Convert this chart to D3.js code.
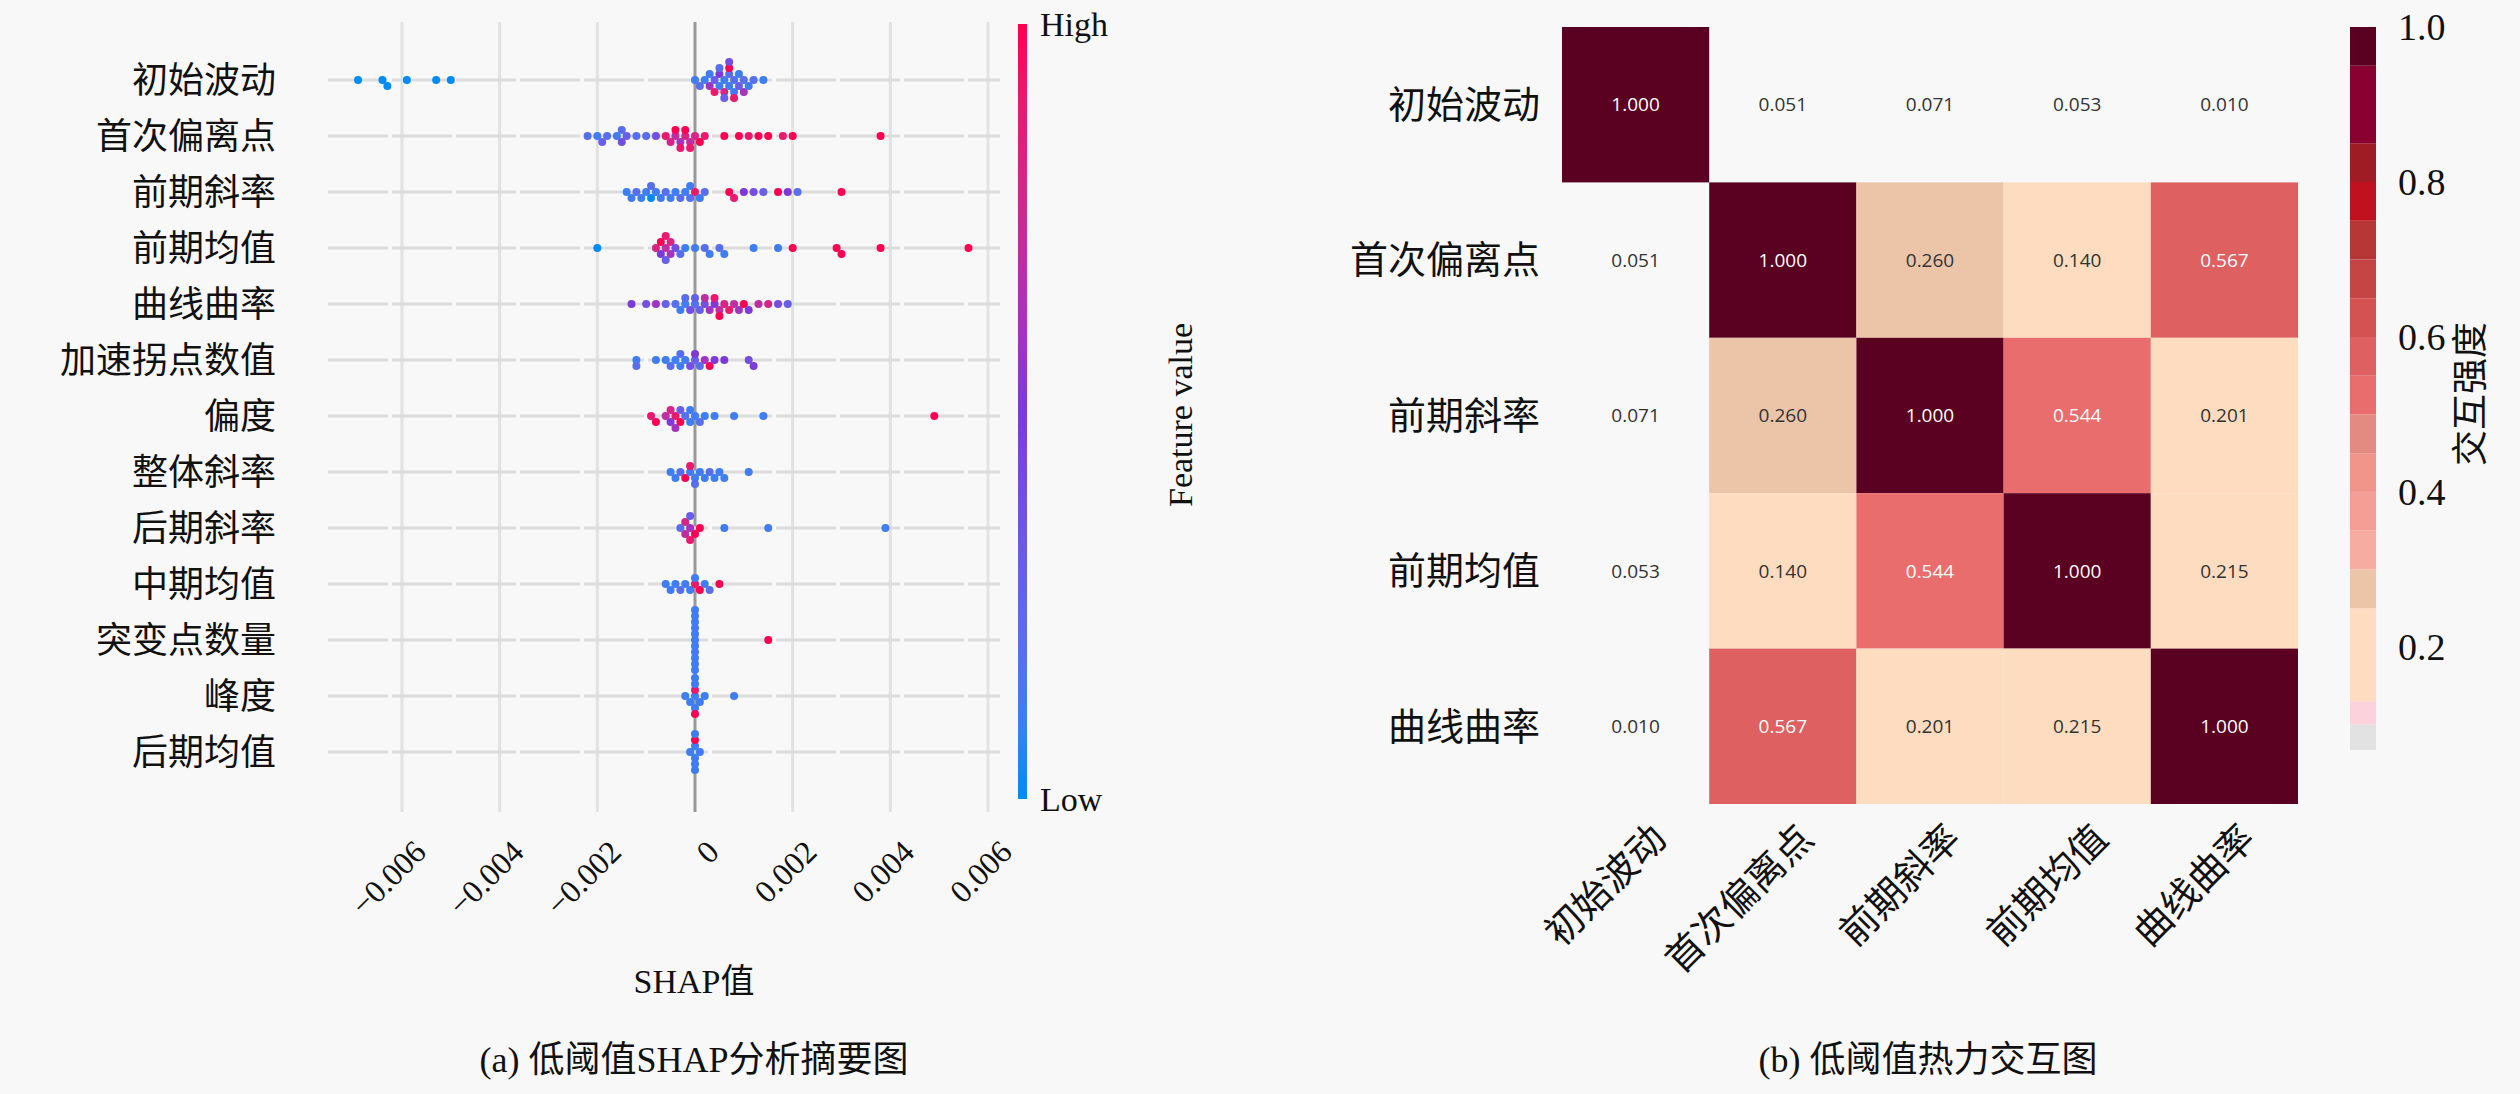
<!DOCTYPE html>
<html><head><meta charset="utf-8">
<script src="https://cdn.jsdelivr.net/npm/d3@7"></script>
<style>
body{margin:0;background:#f8f8f8;}
text{font-family:"Liberation Serif","Noto Sans CJK SC",serif;fill:#111;}
</style></head>
<body><div id="chart"></div>
<script>
// features, top to bottom
var features = ["初始波动","首次偏离点","前期斜率","前期均值","曲线曲率","加速拐点数值","偏度","整体斜率","后期斜率","中期均值","突变点数量","峰度","后期均值"];
// shap values (x 1e-3) and feature values (0 low .. 1 high), one pair of arrays per feature
var shap0 = [-6.9,-6.4,-6.3,-5.9,-5.3,-5.0,0.0,0.1,0.2,0.3,0.3,0.4,0.4,0.5,0.5,0.5,0.6,0.6,0.6,0.7,0.7,0.7,0.7,0.8,0.8,0.8,0.9,0.9,1.0,1.0,1.1,1.2,1.4];
var fv0   = [0,0,0,0,0,0,0.1,0.2,0.1,0.6,0.1,0.3,0.9,0.1,0.5,0.2,0.1,0.8,0.3,0.1,0.2,1,0.4,0.2,0.1,0.9,0.3,0.1,0.2,0.6,0.1,0.2,0.1];
var shap1 = [-2.2,-2.0,-1.9,-1.8,-1.6,-1.5,-1.5,-1.4,-1.2,-1.0,-0.8,-0.6,-0.5,-0.4,-0.4,-0.3,-0.3,-0.2,-0.2,-0.1,-0.1,0.0,0.1,0.2,0.6,0.9,1.1,1.3,1.5,1.8,2.0,3.8];
var fv1   = [0.2,0.1,0.3,0.2,0.1,0.4,0.2,0.3,0.2,0.2,0.4,0.9,0.8,0.7,1,0.6,0.9,0.8,1,0.7,0.9,0.8,1,0.9,1,1,0.9,1,1,0.9,1,1];
var shap2 = [-1.4,-1.3,-1.2,-1.1,-1.0,-0.9,-0.9,-0.8,-0.7,-0.6,-0.5,-0.4,-0.3,-0.2,-0.1,-0.1,0.0,0.1,0.2,0.7,0.8,1.0,1.2,1.4,1.7,1.9,2.1,3.0];
var fv2   = [0.1,0.1,0.2,0.1,0.1,0,0.2,0.1,0.1,0.2,0.1,0.1,0.2,0.1,0.2,0.1,0.9,0.1,0.2,1,0.9,0.5,0.4,0.3,1,0.5,0.2,1];
var shap3 = [-2.0,-0.8,-0.7,-0.7,-0.6,-0.6,-0.6,-0.5,-0.5,-0.4,-0.3,-0.2,0.0,0.2,0.3,0.5,0.6,1.2,1.7,2.0,2.9,3.0,3.8,5.6];
var fv3   = [0,0.8,0.5,1,0.7,0.3,0.9,0.6,0.8,0.4,0.2,0.1,0.1,0.2,0.1,0.2,0.1,0.1,0.1,1,1,1,1,1];
var shap4 = [-1.3,-1.0,-0.8,-0.6,-0.4,-0.3,-0.2,-0.1,0.0,0.1,0.2,0.3,0.4,0.5,0.6,0.7,0.8,0.9,1.0,1.1,1.3,1.5,1.7,1.9,-0.2,0.0,0.2,0.4,0.5];
var fv4   = [0.5,0.4,0.6,0.3,0.2,0.1,0.1,0.4,0.2,0.3,0.4,0.6,0.5,0.7,0.8,0.9,0.7,0.6,1,0.5,0.7,0.8,0.4,0.3,0.2,0.3,0.7,0.9,1];
var shap5 = [-1.2,-1.2,-0.8,-0.6,-0.5,-0.4,-0.3,-0.3,-0.2,-0.1,0.0,0.0,0.1,0.2,0.3,0.4,0.6,1.1,1.2];
var fv5   = [0.1,0.2,0.1,0.1,0.2,0.1,0.1,0.2,0.1,0.4,0.3,0.5,0.2,0.6,1,0.5,0.5,0.4,0.5];
var shap6 = [-0.9,-0.8,-0.6,-0.5,-0.5,-0.4,-0.4,-0.3,-0.3,-0.2,-0.1,-0.1,0.0,0.1,0.2,0.4,0.8,1.4,4.9];
var fv6   = [0.9,1,0.7,0.5,0.8,0.9,0.6,1,0.3,0.2,0.1,0.1,0.1,0.2,0.1,0.1,0.1,0.1,1];
var shap7 = [-0.5,-0.4,-0.3,-0.2,-0.1,-0.1,0.0,0.0,0.1,0.2,0.3,0.4,0.5,0.6,1.1];
var fv7   = [0.1,0.1,0.2,1,0.1,0.9,0.1,0.2,0.1,0.1,0.2,0.1,0.1,0.1,0.1];
var shap8 = [-0.3,-0.2,-0.2,-0.1,-0.1,-0.1,0.0,0.1,0.6,1.5,3.9];
var fv8   = [0.2,0.7,0.8,0.6,0.9,0.3,1,1,0.1,0.1,0.1];
var shap9 = [-0.6,-0.5,-0.4,-0.3,-0.2,-0.1,0.0,0.0,0.1,0.2,0.3,0.5];
var fv9   = [0.1,0.1,0.1,0.2,0.1,0.1,0.9,0.1,1,0.1,0.2,1];
var shap10 = [0,0,0,0,0,0,0,0,0,0,0,1.5];
var fv10   = [0.1,0.1,0.1,0.1,0.1,0.1,0.1,0.1,0.1,0.1,0.1,1];
var shap11 = [-0.2,-0.1,0,0,0,0,0,0,0.1,0.2,0.8];
var fv11   = [0.1,0.1,0.1,0.9,0.1,0.1,1,0.1,0.1,0.1,0.1];
var shap12 = [-0.1,0,0,0,0,0,0,0.1];
var fv12   = [0.1,0.1,0.1,0.1,1,0.1,0.1,0.1];
var shapAll = [shap0,shap1,shap2,shap3,shap4,shap5,shap6,shap7,shap8,shap9,shap10,shap11,shap12];
var fvAll = [fv0,fv1,fv2,fv3,fv4,fv5,fv6,fv7,fv8,fv9,fv10,fv11,fv12];
var xTicks = [-0.006,-0.004,-0.002,0,0.002,0.004,0.006];

// heatmap
var hmLabels = ["初始波动","首次偏离点","前期斜率","前期均值","曲线曲率"];
var hmValues = [
 [1.000,0.051,0.071,0.053,0.010],
 [0.051,1.000,0.260,0.140,0.567],
 [0.071,0.260,1.000,0.544,0.201],
 [0.053,0.140,0.544,1.000,0.215],
 [0.010,0.567,0.201,0.215,1.000]];
var cbTicks = [0.2,0.4,0.6,0.8,1.0];
var cbBreaks = [0.1,0.13,0.25,0.3,0.35,0.4,0.45,0.5,0.55,0.6,0.65,0.7,0.75,0.8,0.85,0.95];
var cbColors = ["#e2e2e2","#fcd3dc","#fddcc0","#ecc4a8","#f7aca2","#f59e95","#f1958b","#e38b80","#e96d6d","#df6060","#d45252","#c54545","#b73636","#c0121e","#a01c24","#8a0030","#5a0020"];

var W = 2520, H = 1094;
var svg = d3.select("#chart").append("svg").attr("width",W).attr("height",H);

// ---------- left: SHAP summary ----------
var x = d3.scaleLinear().domain([-0.006,0.006]).range([402,988]);
var y = d3.scalePoint().domain(features).range([80,752]);
var col = d3.scaleLinear().domain([0,0.5,1]).range(["#008bfb","#7d3ad9","#ff0052"]).interpolate(d3.interpolateLab);

var g = svg.append("g");
g.selectAll(".vg").data(xTicks).enter().append("line")
 .attr("x1",d=>x(d)).attr("x2",d=>x(d)).attr("y1",22).attr("y2",812)
 .attr("stroke",d=>d===0?"#999":"#e2e2e2").attr("stroke-width",3);
g.selectAll(".hg").data(features).enter().append("line")
 .attr("x1",328).attr("x2",1000).attr("y1",d=>y(d)).attr("y2",d=>y(d))
 .attr("stroke","#dcdcdc").attr("stroke-width",3).attr("stroke-dasharray","60,4");

g.selectAll(".yl").data(features).enter().append("text")
 .attr("x",276).attr("y",d=>y(d)).attr("dy","0.35em").attr("text-anchor","end")
 .style("font-size","36px").text(d=>d);

var r = 4;
features.forEach(function(f,i){
  var pts = shapAll[i].map((s,k)=>({px:x(s/1000),fv:fvAll[i][k]}));
  pts.sort((a,b)=>a.px-b.px);
  var placed = [];
  var gap = r*1.5;
  pts.forEach(function(p){
    var off = 0, step = 0;
    for(;;){
      var cand = step===0?0:(step%2? Math.ceil(step/2)*gap : -(step/2)*gap);
      var hit = placed.some(q=>Math.abs(q.px-p.px)<r*1.6 && Math.abs(q.oy-cand)<gap*0.9);
      if(!hit){off=cand;break;}
      step++;
    }
    p.oy = off; placed.push(p);
  });
  g.selectAll(".d"+i).data(pts).enter().append("circle")
   .attr("cx",d=>d.px).attr("cy",d=>y(f)+d.oy).attr("r",r)
   .attr("fill",d=>col(d.fv));
});

var fmt = d=> d===0?"0":d3.format(".3f")(d).replace("-","−");
g.selectAll(".xt").data(xTicks).enter().append("text")
 .attr("transform",d=>"translate("+(x(d)+10)+",838) rotate(-45)")
 .attr("text-anchor","end").attr("dy","0.7em").style("font-size","32px").text(fmt);
g.append("text").attr("x",694).attr("y",993).attr("text-anchor","middle").style("font-size","34px").text("SHAP值");
g.append("text").attr("x",694).attr("y",1072).attr("text-anchor","middle").style("font-size","36px").text("(a) 低阈值SHAP分析摘要图");

// feature colorbar
var defs = svg.append("defs");
var lg = defs.append("linearGradient").attr("id","fvg").attr("x1",0).attr("x2",0).attr("y1",1).attr("y2",0);
d3.range(0,1.01,0.1).forEach(t=>lg.append("stop").attr("offset",t).attr("stop-color",col(t)));
svg.append("rect").attr("x",1018).attr("y",24).attr("width",9).attr("height",775).attr("fill","url(#fvg)");
svg.append("text").attr("x",1040).attr("y",24).attr("dy","0.35em").style("font-size","34px").text("High");
svg.append("text").attr("x",1040).attr("y",799).attr("dy","0.35em").style("font-size","34px").text("Low");
svg.append("text").attr("transform","translate(1180,415) rotate(-90)").attr("text-anchor","middle")
 .attr("dy","0.35em").style("font-size","34px").text("Feature value");

// ---------- right: heatmap ----------
var hx = d3.scaleBand().domain(hmLabels).range([1562,2298]);
var hy = d3.scaleBand().domain(hmLabels).range([27,804]);
var hc = d3.scaleThreshold().domain(cbBreaks).range(cbColors);
var cells = [];
hmValues.forEach((row,i)=>row.forEach((v,j)=>cells.push({r:hmLabels[i],c:hmLabels[j],v:v})));
var hg = svg.append("g");
hg.selectAll("rect").data(cells.filter(d=>d.v>=0.1)).enter().append("rect")
 .attr("x",d=>hx(d.c)).attr("y",d=>hy(d.r)).attr("width",hx.bandwidth()).attr("height",hy.bandwidth())
 .attr("fill",d=>hc(d.v));
hg.selectAll(".cv").data(cells).enter().append("text")
 .attr("x",d=>hx(d.c)+hx.bandwidth()/2).attr("y",d=>hy(d.r)+hy.bandwidth()/2).attr("dy","0.35em")
 .attr("text-anchor","middle").style("font-family","'Open Sans',sans-serif").style("font-size","19px")
 .style("fill",d=>d.v>0.5?"#fff":"#333").text(d=>d.v.toFixed(3));
hg.selectAll(".rl").data(hmLabels).enter().append("text")
 .attr("x",1540).attr("y",d=>hy(d)+hy.bandwidth()/2).attr("dy","0.35em").attr("text-anchor","end")
 .style("font-size","38px").text(d=>d);
hg.selectAll(".cl").data(hmLabels).enter().append("text")
 .attr("transform",d=>"translate("+(hx(d)+hx.bandwidth()/2+14)+",822) rotate(-45)")
 .attr("text-anchor","end").attr("dy","0.7em").style("font-size","38px").text(d=>d);

// heatmap colorbar
var cy = d3.scaleLinear().domain([0.067,1.0]).range([750,27]);
var bands = [0.067].concat(cbBreaks.filter(b=>b>0.067)).concat([1.0]);
for(var k=0;k<bands.length-1;k++){
  svg.append("rect").attr("x",2350).attr("width",26)
   .attr("y",cy(bands[k+1])).attr("height",cy(bands[k])-cy(bands[k+1]))
   .attr("fill",hc((bands[k]+bands[k+1])/2));
}
svg.selectAll(".cbt").data(cbTicks).enter().append("text")
 .attr("x",2398).attr("y",d=>cy(d)).attr("dy","0.35em").style("font-size","38px").text(d=>d.toFixed(1));
svg.append("text").attr("transform","translate(2470,394) rotate(-90)").attr("text-anchor","middle")
 .attr("dy","0.35em").style("font-size","36px").text("交互强度");
svg.append("text").attr("x",1928).attr("y",1072).attr("text-anchor","middle").style("font-size","36px").text("(b) 低阈值热力交互图");
</script></body></html>
